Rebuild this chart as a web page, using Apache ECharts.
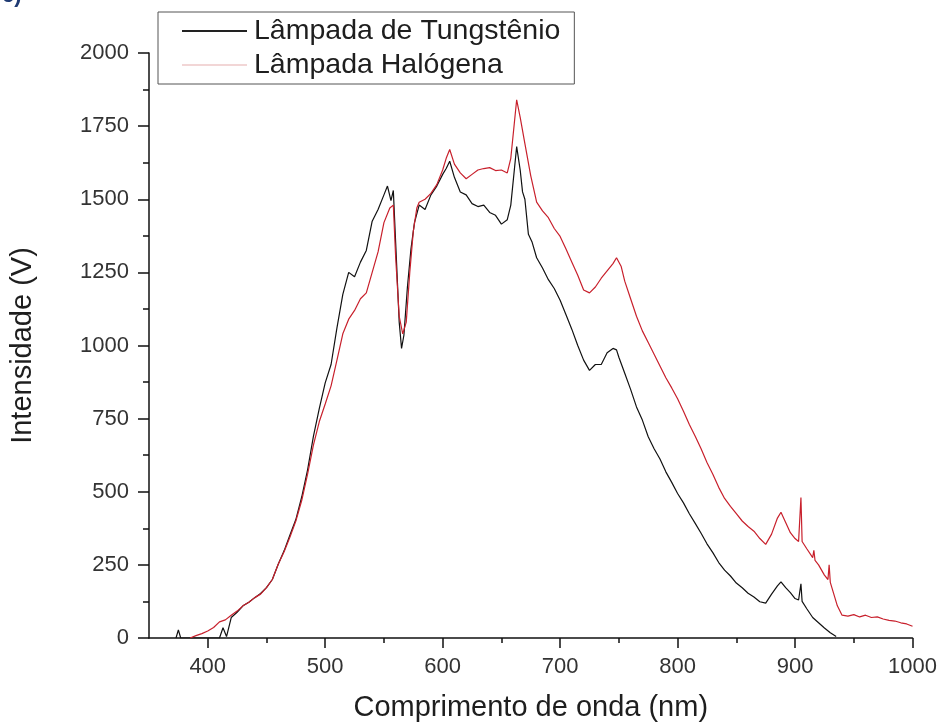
<!DOCTYPE html>
<html>
<head>
<meta charset="utf-8">
<script src="https://cdn.jsdelivr.net/npm/echarts@6/dist/echarts.min.js"></script>
<style>html,body{margin:0;padding:0;background:#fff}#c{width:940px;height:727px}</style>
</head>
<body>
<div id="c"></div>
<script>
// Lâmpada de Tungstênio (black)
var wlT = [373,375,377,410,413,416,420,425,430,435,440,445,450,455,460,465,470,475,480,485,490,495,500,505,510,515,520,525,530,535,540,545,550,553,556,558,560,563,565,567,570,573,576,580,585,590,595,600,603,606,610,615,620,625,630,635,640,645,650,655,658,661,663,666,668,670,673,676,680,685,690,695,700,705,710,715,720,725,730,735,740,745,748,750,755,760,765,770,775,780,785,790,795,800,805,810,815,820,825,830,835,840,845,850,855,860,865,870,875,880,885,888,892,896,900,903,905,906,910,915,920,925,930,935];
var valT = [0,28,0,0,35,5,70,88,110,122,138,152,172,200,252,298,352,405,482,575,690,785,872,935,1060,1175,1250,1235,1285,1325,1425,1465,1515,1545,1495,1530,1350,1080,990,1035,1200,1330,1420,1480,1465,1515,1545,1585,1605,1630,1575,1525,1515,1485,1475,1480,1455,1445,1415,1430,1480,1600,1680,1600,1525,1500,1380,1355,1300,1265,1225,1195,1155,1105,1055,1000,950,915,935,935,975,990,985,960,905,850,790,745,688,647,612,568,532,494,462,425,392,358,322,292,258,232,212,188,172,153,140,124,119,150,178,192,172,155,135,130,185,125,100,70,52,34,18,5];

// Lâmpada Halógena (red)
var wlH = [385,390,395,400,405,410,415,420,425,430,435,440,445,450,455,460,465,470,475,480,485,490,495,500,505,510,515,520,525,530,535,540,545,550,555,558,560,563,566,569,572,575,578,580,585,590,595,600,603,606,610,615,620,625,630,635,640,645,650,655,658,661,663,666,670,675,680,685,690,695,700,705,710,715,720,725,730,735,740,745,748,752,755,760,765,770,775,780,785,790,795,800,805,810,815,820,825,830,835,840,845,850,855,860,865,870,875,880,885,888,892,896,900,903,905,906,910,915,916,917,920,925,928,929,930,933,936,940,945,950,955,960,965,970,975,980,985,990,995,1000];
var valH = [0,8,15,24,36,55,62,78,92,110,122,138,150,172,200,252,295,345,400,470,560,660,740,800,862,950,1040,1090,1120,1160,1180,1250,1320,1420,1470,1480,1300,1100,1040,1080,1250,1390,1470,1490,1500,1520,1550,1600,1640,1670,1620,1590,1570,1585,1600,1605,1608,1598,1600,1590,1640,1760,1840,1780,1690,1580,1490,1460,1437,1400,1373,1330,1285,1240,1190,1180,1200,1230,1255,1280,1300,1270,1220,1160,1100,1050,1010,970,930,890,855,818,775,730,690,647,600,560,515,477,450,425,400,381,365,340,320,355,410,430,395,360,340,330,480,330,305,275,300,265,250,215,200,250,190,150,110,78,75,80,72,78,70,72,65,60,58,52,48,40];

var xLabelTicks = [400,500,600,700,800,900,1000];
var xMinorTicks = [450,550,650,750,850,950];
var legendNames = ['Lâmpada de Tungstênio','Lâmpada Halógena'];

function pairs(x, y){ return x.map(function(v,i){ return [v, y[i]]; }); }
function plain(v){ return String(v); }

var chart = echarts.init(document.getElementById('c'), null, {renderer:'canvas'});
var FONT = 'Liberation Sans, Arial, sans-serif';
chart.setOption({
  animation:false,
  backgroundColor:'#fff',
  graphic:[{type:'text', left:2, top:-15, style:{text:'c)', font:'bold 22px '+FONT, fill:'#1f3b73'}}],
  grid:{left:149, right:26, top:53, bottom:87},
  legend:{
    orient:'vertical', left:158, top:12,
    padding:[2,14,2,24], itemGap:0, itemWidth:65, itemHeight:2,
    borderColor:'#555', borderWidth:1,
    textStyle:{fontSize:28.5, fontFamily:FONT, color:'#1e1e1e', padding:[0,0,0,2], lineHeight:34, height:34},
    data:[
      {name:legendNames[0], icon:'rect', itemStyle:{color:'#222'}},
      {name:legendNames[1], icon:'rect', itemStyle:{color:'#f2d6d6'}}
    ]
  },
  xAxis:[{
    type:'value', min:350, max:1000,
    name:'Comprimento de onda (nm)', nameLocation:'middle', nameGap:55,
    nameTextStyle:{fontSize:29, fontFamily:FONT, color:'#1e1e1e'},
    axisLine:{show:true, onZero:false, lineStyle:{color:'#111', width:1.5}},
    axisTick:{show:true, inside:false, length:10, lineStyle:{color:'#111', width:1.5}, customValues:xLabelTicks},
    axisLabel:{fontSize:22, fontFamily:FONT, color:'#333', margin:18, customValues:xLabelTicks, formatter:plain},
    splitLine:{show:false}
  },{
    type:'value', min:350, max:1000, position:'bottom', offset:0,
    axisLine:{show:false},
    axisTick:{show:true, length:5, lineStyle:{color:'#111', width:1.5}, customValues:xMinorTicks},
    axisLabel:{show:false},
    splitLine:{show:false}
  }],
  yAxis:{
    type:'value', min:0, max:2000, interval:250,
    name:'Intensidade (V)', nameLocation:'middle', nameGap:112,
    nameTextStyle:{fontSize:29, fontFamily:FONT, color:'#1e1e1e'},
    axisLine:{show:true, lineStyle:{color:'#111', width:1.5}},
    axisTick:{show:true, length:11, lineStyle:{color:'#111', width:1.5}},
    minorTick:{show:true, splitNumber:2, length:6, lineStyle:{color:'#111', width:1.5}},
    axisLabel:{fontSize:22, fontFamily:FONT, color:'#333', margin:20, formatter:plain},
    splitLine:{show:false}
  },
  series:[
    {name:legendNames[0], type:'line', data:pairs(wlT,valT), showSymbol:false, symbol:'none',
     lineStyle:{color:'#111', width:1.2}, itemStyle:{color:'#111'}, z:2},
    {name:legendNames[1], type:'line', data:pairs(wlH,valH), showSymbol:false, symbol:'none',
     lineStyle:{color:'#c8202c', width:1.2}, itemStyle:{color:'#c8202c'}, z:3}
  ]
});
</script>
</body>
</html>
